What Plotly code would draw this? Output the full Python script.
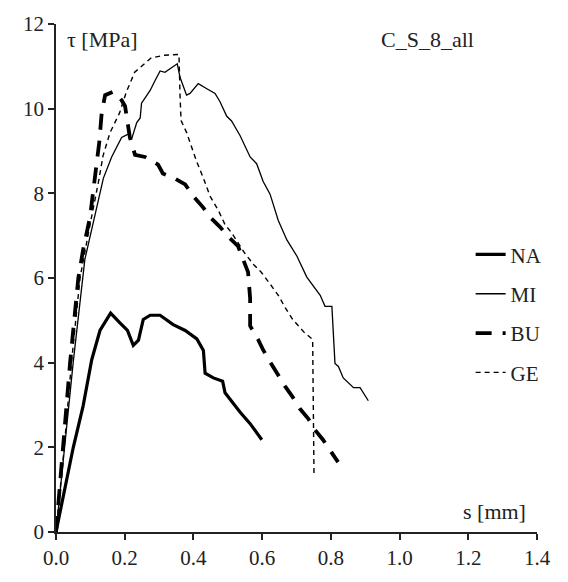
import plotly.graph_objects as go

# ---- data ----
na_s = [0.0, 0.050, 0.079, 0.104, 0.128, 0.159, 0.186, 0.208, 0.225, 0.240, 0.254, 0.274, 0.303,
        0.341, 0.376, 0.410, 0.429, 0.434, 0.458, 0.485, 0.492, 0.536, 0.565, 0.599]
na_t = [0.0, 1.99, 2.98, 4.07, 4.76, 5.17, 4.94, 4.76, 4.41, 4.53, 5.02, 5.12, 5.12,
        4.90, 4.76, 4.56, 4.29, 3.75, 3.64, 3.56, 3.29, 2.83, 2.56, 2.18]

mi_s = [0.0, 0.026, 0.050, 0.084, 0.138, 0.162, 0.191, 0.210, 0.220, 0.235, 0.245, 0.249, 0.274,
        0.288, 0.303, 0.317, 0.353, 0.361, 0.380, 0.390, 0.414, 0.439, 0.463, 0.477, 0.497,
        0.511, 0.536, 0.565, 0.584, 0.603, 0.623, 0.647, 0.672, 0.701, 0.730, 0.769, 0.783,
        0.803, 0.812, 0.822, 0.836, 0.866, 0.885, 0.909]
mi_t = [0.0, 2.0, 4.0, 6.44, 8.36, 8.86, 9.32, 9.40, 9.28, 9.67, 9.78, 10.13, 10.43,
        10.66, 10.89, 10.86, 11.06, 10.74, 10.32, 10.36, 10.59, 10.47, 10.36, 10.17, 9.82,
        9.71, 9.36, 8.86, 8.70, 8.28, 7.98, 7.36, 6.90, 6.52, 6.02, 5.59, 5.33,
        5.33, 3.98, 3.91, 3.64, 3.41, 3.41, 3.10]

bu_s = [0.0, 0.021, 0.041, 0.065, 0.079, 0.099, 0.114, 0.126, 0.133, 0.143, 0.167, 0.191, 0.201,
        0.215, 0.230, 0.259, 0.297, 0.311, 0.346, 0.376, 0.399, 0.428, 0.448, 0.477, 0.501,
        0.530, 0.544, 0.559, 0.565, 0.565, 0.588, 0.603, 0.623, 0.643, 0.667, 0.687, 0.710,
        0.734, 0.754, 0.777, 0.803, 0.821]
bu_t = [0.0, 2.0, 4.0, 6.0, 6.67, 7.44, 8.44, 9.21, 9.90, 10.32, 10.40, 10.20, 10.06,
        9.32, 8.91, 8.86, 8.68, 8.47, 8.35, 8.21, 7.94, 7.67, 7.44, 7.21, 6.98,
        6.75, 6.45, 6.14, 5.52, 4.87, 4.55, 4.30, 4.02, 3.74, 3.44, 3.21, 2.91,
        2.68, 2.41, 2.18, 1.88, 1.65]

ge_s = [0.0, 0.024, 0.045, 0.070, 0.095, 0.111, 0.125, 0.137, 0.157, 0.185, 0.205, 0.229, 0.277,
        0.314, 0.348, 0.358, 0.361, 0.364, 0.380, 0.394, 0.409, 0.429, 0.448, 0.473, 0.492,
        0.511, 0.549, 0.575, 0.598, 0.623, 0.648, 0.667, 0.689, 0.723, 0.747, 0.751]
ge_t = [0.0, 2.0, 4.0, 6.0, 7.09, 7.71, 8.33, 8.89, 9.43, 9.90, 10.40, 10.86, 11.20,
        11.26, 11.28, 11.28, 10.31, 9.72, 9.44, 9.10, 8.76, 8.36, 7.94, 7.59, 7.26,
        7.07, 6.59, 6.32, 6.13, 5.86, 5.58, 5.30, 5.02, 4.71, 4.55, 1.30]

series_names = ["NA", "MI", "BU", "GE"]
x_ticks = [0.0, 0.2, 0.4, 0.6, 0.8, 1.0, 1.2, 1.4]
y_ticks = [0, 2, 4, 6, 8, 10, 12]

FONT = "'Liberation Serif', 'Times New Roman', 'DejaVu Serif', serif"
TXT = "#222"

styles = {
    "NA": dict(width=3.2, dash="solid"),
    "MI": dict(width=1.3, dash="solid"),
    "BU": dict(width=3.8, dash="16px,11px"),
    "GE": dict(width=1.4, dash="5px,4px"),
}
data = {"NA": (na_s, na_t), "MI": (mi_s, mi_t), "BU": (bu_s, bu_t), "GE": (ge_s, ge_t)}

fig = go.Figure()
for name in series_names:
    xs, ys = data[name]
    fig.add_trace(go.Scatter(
        x=xs, y=ys, mode="lines", name=name, legendgroup=name,
        line=dict(color="black", width=styles[name]["width"], dash=styles[name]["dash"]),
    ))

axis_common = dict(
    showgrid=False, zeroline=False, showline=True, linecolor="#222", linewidth=1.5,
    ticks="outside", ticklen=6, tickwidth=1.5, tickcolor="#222",
    tickfont=dict(family=FONT, size=21, color=TXT),
)

fig.update_layout(
    width=568, height=582,
    margin=dict(l=56, r=31, t=19, b=43),
    paper_bgcolor="white", plot_bgcolor="white",
    font=dict(family=FONT, color=TXT),
    xaxis=dict(range=[0, 1.4], tickvals=x_ticks, tickformat=".1f", **axis_common),
    yaxis=dict(range=[0, 12], tickvals=y_ticks, **axis_common),
    showlegend=True,
    legend=dict(
        x=0.862, y=0.586, xanchor="left", yanchor="top",
        font=dict(family=FONT, size=21, color=TXT),
        bgcolor="rgba(0,0,0,0)", tracegroupgap=9,
    ),
    annotations=[
        dict(text="τ [MPa]", xref="paper", yref="paper", x=0.018, y=0.969,
             xanchor="left", yanchor="middle", showarrow=False,
             font=dict(family=FONT, size=22, color=TXT)),
        dict(text="C_S_8_all", xref="paper", yref="paper", x=0.672, y=0.969,
             xanchor="left", yanchor="middle", showarrow=False,
             font=dict(family=FONT, size=22, color=TXT)),
        dict(text="s [mm]", xref="paper", yref="paper", x=0.981, y=0.041,
             xanchor="right", yanchor="middle", showarrow=False,
             font=dict(family=FONT, size=22, color=TXT)),
    ],
)

fig.write_html("out.html")
